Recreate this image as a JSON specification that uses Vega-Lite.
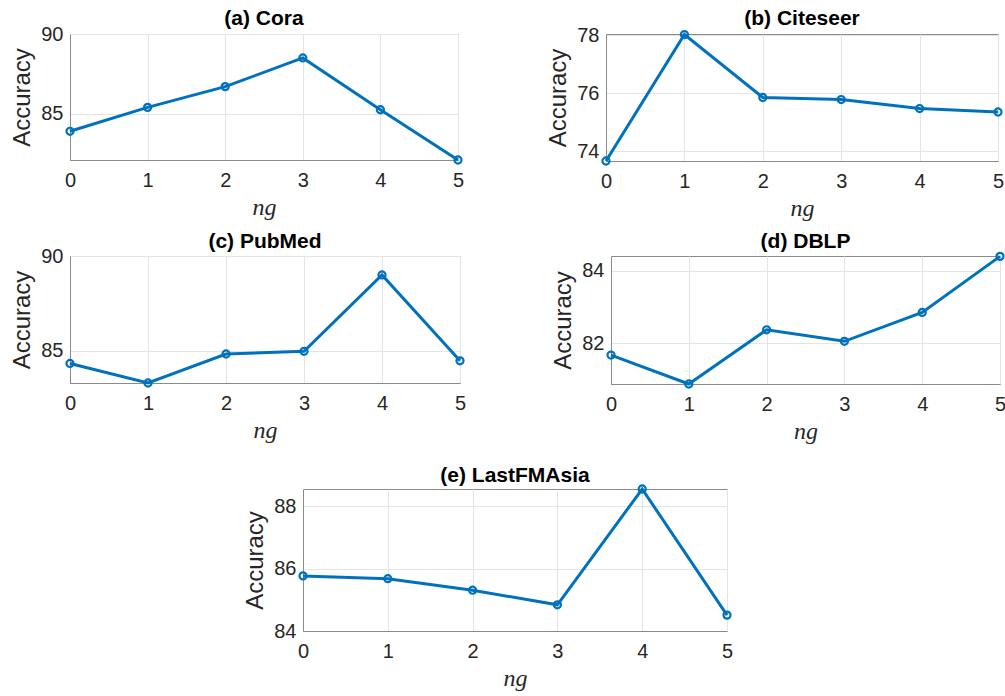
{
  "$schema": "https://vega.github.io/schema/vega-lite/v6.json",
  "padding": {"left": 10, "top": 7, "right": 5, "bottom": 3},
  "background": "white",
  "config": {
    "font": "Liberation Sans",
    "view": {"stroke": "#8a8a8a", "strokeWidth": 1},
    "title": {"fontSize": 21, "fontWeight": "bold", "color": "#000000", "anchor": "middle", "frame": "group", "font": "Liberation Sans"},
    "axis": {
      "grid": true, "gridColor": "#e4e4e4", "gridWidth": 1,
      "domainColor": "#8a8a8a", "ticks": false,
      "labelFontSize": 20, "labelColor": "#262626", "labelFont": "Liberation Sans",
      "titleFontSize": 24, "titleFontWeight": "normal", "titleColor": "#262626", "titleFont": "Liberation Sans"
    },
    "axisX": {"labelFlush": false, "labelPadding": 10, "titleFont": "Liberation Serif", "titleFontStyle": "italic", "titleFontSize": 24, "titlePadding": 5},
    "axisY": {"labelPadding": 7, "titlePadding": 6}
  },
  "vconcat": [
    {
      "vconcat": [
        {
          "hconcat": [
            {
              "width": 388, "height": 126, "title": {"text": "(a) Cora", "offset": -5},
              "data": {"values": [{"ng": 0, "accuracy": 83.9}, {"ng": 1, "accuracy": 85.4}, {"ng": 2, "accuracy": 86.7}, {"ng": 3, "accuracy": 88.5}, {"ng": 4, "accuracy": 85.25}, {"ng": 5, "accuracy": 82.1}]},
              "encoding": {
                "x": {"field": "ng", "type": "quantitative", "scale": {"domain": [0, 5], "nice": false}, "axis": {"values": [0, 1, 2, 3, 4, 5], "title": "ng"}},
                "y": {"field": "accuracy", "type": "quantitative", "scale": {"domain": [82.1, 90], "nice": false, "zero": false}, "axis": {"values": [85, 90], "title": "Accuracy"}}
              },
              "layer": [
                {"mark": {"type": "line", "color": "#0072BD", "strokeWidth": 3}},
                {"mark": {"type": "point", "color": "#0072BD", "filled": false, "strokeWidth": 2.2, "size": 50, "opacity": 1}}
              ]
            },
            {
              "width": 392, "height": 127, "title": {"text": "(b) Citeseer", "offset": -4},
              "data": {"values": [{"ng": 0, "accuracy": 73.67}, {"ng": 1, "accuracy": 78.03}, {"ng": 2, "accuracy": 75.86}, {"ng": 3, "accuracy": 75.79}, {"ng": 4, "accuracy": 75.48}, {"ng": 5, "accuracy": 75.36}]},
              "encoding": {
                "x": {"field": "ng", "type": "quantitative", "scale": {"domain": [0, 5], "nice": false}, "axis": {"values": [0, 1, 2, 3, 4, 5], "title": "ng"}},
                "y": {"field": "accuracy", "type": "quantitative", "scale": {"domain": [73.67, 78.05], "nice": false, "zero": false}, "axis": {"values": [74, 76, 78], "title": "Accuracy"}}
              },
              "layer": [
                {"mark": {"type": "line", "color": "#0072BD", "strokeWidth": 3}},
                {"mark": {"type": "point", "color": "#0072BD", "filled": false, "strokeWidth": 2.2, "size": 50, "opacity": 1}}
              ]
            }
          ],
          "spacing": 148, "bounds": "flush"
        },
        {
          "hconcat": [
            {
              "width": 390, "height": 127, "title": {"text": "(c) PubMed", "offset": -6},
              "data": {"values": [{"ng": 0, "accuracy": 84.33}, {"ng": 1, "accuracy": 83.3}, {"ng": 2, "accuracy": 84.83}, {"ng": 3, "accuracy": 84.97}, {"ng": 4, "accuracy": 89.0}, {"ng": 5, "accuracy": 84.47}]},
              "encoding": {
                "x": {"field": "ng", "type": "quantitative", "scale": {"domain": [0, 5], "nice": false}, "axis": {"values": [0, 1, 2, 3, 4, 5], "title": "ng"}},
                "y": {"field": "accuracy", "type": "quantitative", "scale": {"domain": [83.3, 90], "nice": false, "zero": false}, "axis": {"values": [85, 90], "title": "Accuracy"}}
              },
              "layer": [
                {"mark": {"type": "line", "color": "#0072BD", "strokeWidth": 3}},
                {"mark": {"type": "point", "color": "#0072BD", "filled": false, "strokeWidth": 2.2, "size": 50, "opacity": 1}}
              ]
            },
            {
              "width": 389, "height": 128, "title": {"text": "(d) DBLP", "offset": -4},
              "data": {"values": [{"ng": 0, "accuracy": 81.67}, {"ng": 1, "accuracy": 80.87}, {"ng": 2, "accuracy": 82.37}, {"ng": 3, "accuracy": 82.05}, {"ng": 4, "accuracy": 82.85}, {"ng": 5, "accuracy": 84.4}]},
              "encoding": {
                "x": {"field": "ng", "type": "quantitative", "scale": {"domain": [0, 5], "nice": false}, "axis": {"values": [0, 1, 2, 3, 4, 5], "title": "ng"}},
                "y": {"field": "accuracy", "type": "quantitative", "scale": {"domain": [80.87, 84.41], "nice": false, "zero": false}, "axis": {"values": [82, 84], "title": "Accuracy"}}
              },
              "layer": [
                {"mark": {"type": "line", "color": "#0072BD", "strokeWidth": 3}},
                {"mark": {"type": "point", "color": "#0072BD", "filled": false, "strokeWidth": 2.2, "size": 50, "opacity": 1}}
              ]
            }
          ],
          "spacing": 151, "bounds": "flush"
        }
      ],
      "spacing": 9
    },
    {
      "hconcat": [
        {
          "width": 223, "height": 10,
          "data": {"values": []},
          "mark": "point",
          "view": {"stroke": null}
        },
        {
          "width": 424, "height": 142, "title": {"text": "(e) LastFMAsia", "offset": -5},
          "data": {"values": [{"ng": 0, "accuracy": 85.77}, {"ng": 1, "accuracy": 85.68}, {"ng": 2, "accuracy": 85.31}, {"ng": 3, "accuracy": 84.84}, {"ng": 4, "accuracy": 88.56}, {"ng": 5, "accuracy": 84.51}]},
          "encoding": {
            "x": {"field": "ng", "type": "quantitative", "scale": {"domain": [0, 5], "nice": false}, "axis": {"values": [0, 1, 2, 3, 4, 5], "title": "ng"}},
            "y": {"field": "accuracy", "type": "quantitative", "scale": {"domain": [84, 88.56], "nice": false, "zero": false}, "axis": {"values": [84, 86, 88], "title": "Accuracy"}}
          },
          "layer": [
            {"mark": {"type": "line", "color": "#0072BD", "strokeWidth": 3}},
            {"mark": {"type": "point", "color": "#0072BD", "filled": false, "strokeWidth": 2.2, "size": 50, "opacity": 1}}
          ]
        }
      ],
      "spacing": 10, "bounds": "flush"
    }
  ],
  "spacing": 20
}
